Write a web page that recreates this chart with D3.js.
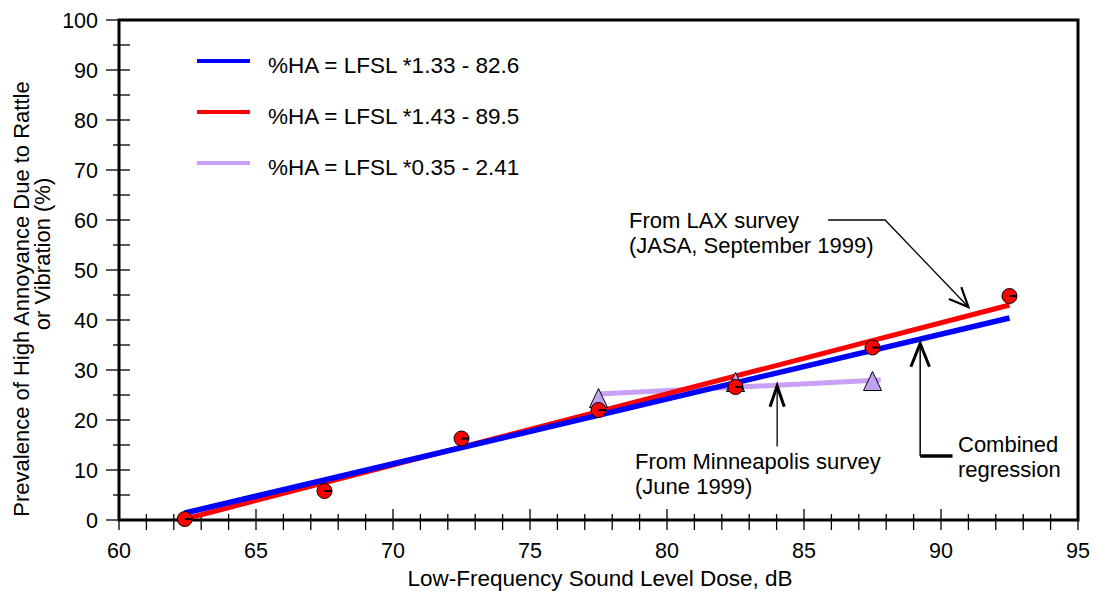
<!DOCTYPE html>
<html>
<head>
<meta charset="utf-8">
<script src="https://cdn.jsdelivr.net/npm/d3@7"></script>
<style>
  body { margin: 0; background: #fff; }
  svg text { font-family: "Liberation Sans", Arial, sans-serif; fill: #000; }
</style>
</head>
<body>
<svg id="chart" width="1095" height="594"></svg>
<script>
// LAX survey points (dose dB, %HA)
const laxDose = [62.4, 67.5, 72.5, 77.5, 82.5, 87.5, 92.5];
const laxHA = [0.2, 5.8, 16.3, 22.0, 26.6, 34.5, 44.8];

// Minneapolis survey points
const minnDose = [77.5, 82.5, 87.5];
const minnHA = [24.4, 27.6, 27.8];

// regression lines, end points
const combinedLine = [[62.4, 1.4], [92.5, 40.4]];
const laxLine = [[62.4, 0.2], [92.5, 43.0]];
const minnLine = [[77.5, 25.2], [87.8, 28.0]];

const legendLabels = [
  '%HA = LFSL *1.33 - 82.6',
  '%HA = LFSL *1.43 - 89.5',
  '%HA = LFSL *0.35 - 2.41'
];
const legendColors = ['#0000ff', '#ff0000', '#c8a0f5'];

const xTicks = [60, 65, 70, 75, 80, 85, 90, 95];
const yTicks = [0, 10, 20, 30, 40, 50, 60, 70, 80, 90, 100];

const svg = d3.select('#chart');
const x = d3.scaleLinear().domain([60, 95]).range([119, 1078]);
const y = d3.scaleLinear().domain([0, 100]).range([520, 20]);

// frame
const g = svg.append('g');

// minor / major ticks on x
d3.range(60, 96, 1).forEach(v => {
  const major = v % 5 === 0;
  g.append('line')
    .attr('x1', x(v)).attr('x2', x(v))
    .attr('y1', y(0) - (major ? 11 : 6)).attr('y2', y(0) + 10)
    .attr('stroke', '#000').attr('stroke-width', 1.3);
});
d3.range(0, 101, 5).forEach(v => {
  const major = v % 10 === 0;
  g.append('line')
    .attr('x1', x(60) - (major ? 13 : 6)).attr('x2', x(60) + 11)
    .attr('y1', y(v)).attr('y2', y(v))
    .attr('stroke', '#000').attr('stroke-width', 1.3);
});

g.append('rect')
  .attr('x', x(60)).attr('y', y(100))
  .attr('width', x(95) - x(60)).attr('height', y(0) - y(100))
  .attr('fill', 'none').attr('stroke', '#000').attr('stroke-width', 3);

// tick labels
g.selectAll('.xl').data(xTicks).join('text')
  .attr('x', d => x(d)).attr('y', 558)
  .attr('text-anchor', 'middle').style('font-size', '21.5px')
  .text(d => d);
g.selectAll('.yl').data(yTicks).join('text')
  .attr('x', 98).attr('y', d => y(d) + 7.5)
  .attr('text-anchor', 'end').style('font-size', '21.5px')
  .text(d => d);

// axis titles
svg.append('text')
  .attr('x', 600).attr('y', 586)
  .attr('text-anchor', 'middle').style('font-size', '22.5px')
  .text('Low-Frequency Sound Level Dose, dB');
svg.append('text')
  .attr('transform', 'translate(29,299) rotate(-90)')
  .attr('text-anchor', 'middle').style('font-size', '22px')
  .text('Prevalence of High Annoyance Due to Rattle');
svg.append('text')
  .attr('transform', 'translate(50,254) rotate(-90)')
  .attr('text-anchor', 'middle').style('font-size', '22px')
  .text('or Vibration (%)');

// regression lines
const line = d3.line().x(d => x(d[0])).y(d => y(d[1]));
svg.append('path').attr('d', line(minnLine))
  .attr('stroke', legendColors[2]).attr('stroke-width', 5).attr('fill', 'none');
svg.append('path').attr('d', line(laxLine))
  .attr('stroke', legendColors[1]).attr('stroke-width', 5).attr('fill', 'none');
svg.append('path').attr('d', line(combinedLine))
  .attr('stroke', legendColors[0]).attr('stroke-width', 5.5).attr('fill', 'none');

// triangles (Minneapolis)
svg.selectAll('.tri').data(minnDose.map((d, i) => [d, minnHA[i]]))
  .join('path')
  .attr('d', d => {
    const cx = x(d[0]), cy = y(d[1]);
    return `M${cx},${cy - 9.5}L${cx + 9},${cy + 9.5}L${cx - 9},${cy + 9.5}Z`;
  })
  .attr('fill', '#c0a0f0').attr('stroke', '#000').attr('stroke-width', 1);

// circles (LAX)
const pts = svg.selectAll('.pt').data(laxDose.map((d, i) => [d, laxHA[i]]))
  .join('g')
  .attr('transform', d => `translate(${x(d[0])},${y(d[1])})`);
pts.append('circle').attr('r', 7.5)
  .attr('fill', '#ff0000').attr('stroke', '#000').attr('stroke-width', 1);
pts.append('line').attr('x1', 0).attr('x2', 7.5).attr('y1', 0).attr('y2', 0)
  .attr('stroke', '#000').attr('stroke-width', 2);

// legend
const leg = svg.selectAll('.leg').data(legendLabels).join('g')
  .attr('transform', (d, i) => `translate(197,${61 + i * 51})`);
leg.append('line').attr('x1', 0).attr('x2', 53)
  .attr('stroke', (d, i) => legendColors[i]).attr('stroke-width', 4);
leg.append('text').attr('x', 71).attr('y', 11.5)
  .style('font-size', '22.5px').text(d => d);

// annotation arrows
function arrowHead(tip, from, len, half, width) {
  const tx = x(tip[0]), ty = y(tip[1]);
  const fx = x(from[0]), fy = y(from[1]);
  const a = Math.atan2(fy - ty, fx - tx);
  const p1 = [tx + len * Math.cos(a + half), ty + len * Math.sin(a + half)];
  const p2 = [tx + len * Math.cos(a - half), ty + len * Math.sin(a - half)];
  svg.append('path')
    .attr('d', `M${p1}L${tx},${ty}L${p2}`)
    .attr('fill', 'none').attr('stroke', '#000').attr('stroke-width', width)
    .attr('stroke-linejoin', 'miter');
}

const laxArrow = [[85.88, 60], [87.96, 60], [91.0, 42.6]];
svg.append('path').attr('d', line(laxArrow))
  .attr('fill', 'none').attr('stroke', '#000').attr('stroke-width', 1.3);
arrowHead(laxArrow[2], laxArrow[1], 21, 0.42, 2.2);

const minnArrow = [[84.02, 14.7], [84.02, 26.8]];
svg.append('path').attr('d', line(minnArrow))
  .attr('fill', 'none').attr('stroke', '#000').attr('stroke-width', 1.3);
arrowHead(minnArrow[1], minnArrow[0], 22, 0.33, 3);

const combArrow = [[90.42, 12.8], [89.24, 12.8], [89.24, 35.3]];
svg.append('path').attr('d', line(combArrow.slice(0, 2)))
  .attr('fill', 'none').attr('stroke', '#000').attr('stroke-width', 3.5);
svg.append('path').attr('d', line(combArrow.slice(1)))
  .attr('fill', 'none').attr('stroke', '#000').attr('stroke-width', 1.5);
arrowHead(combArrow[2], combArrow[1], 25, 0.38, 3);

// annotation texts
const notes = [
  [629, 228, 'From LAX survey'],
  [629, 253, '(JASA, September 1999)'],
  [635, 469, 'From Minneapolis survey'],
  [635, 494, '(June 1999)'],
  [958, 452, 'Combined'],
  [958, 477, 'regression']
];
svg.selectAll('.note').data(notes).join('text')
  .attr('x', d => d[0]).attr('y', d => d[1])
  .style('font-size', '22px').text(d => d[2]);
</script>
</body>
</html>
